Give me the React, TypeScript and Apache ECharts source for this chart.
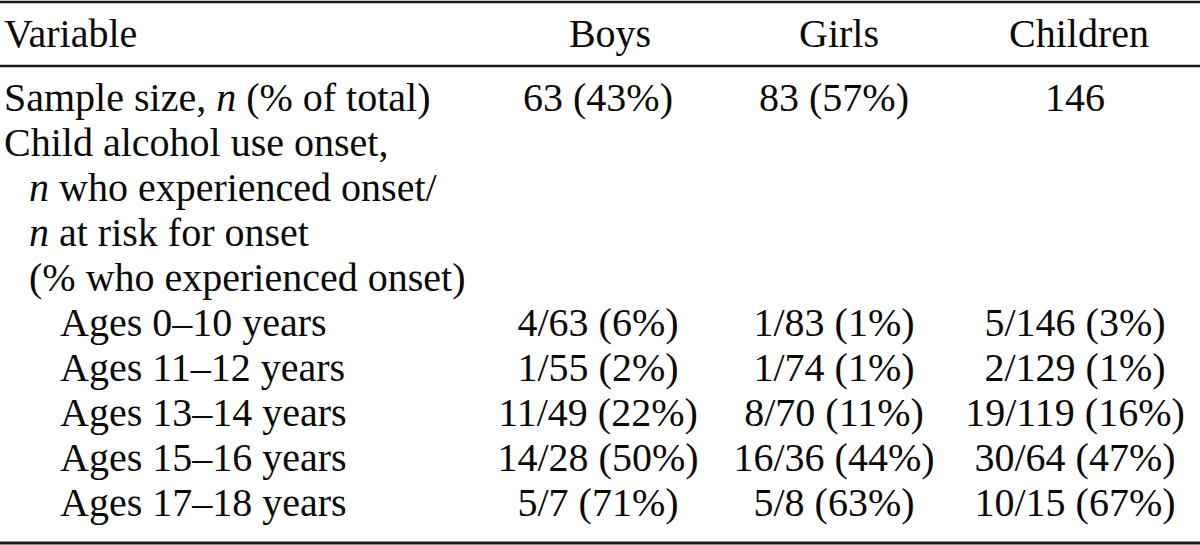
import React, { useEffect, useRef } from "react";
import * as echarts from "echarts";

const headerFirst = "Variable";
const columns = ["Boys", "Girls", "Children"];
const sampleN = [63, 83, 146];
const samplePct: (number | null)[] = [43, 57, null];
const ageGroups = [
  "Ages 0–10 years",
  "Ages 11–12 years",
  "Ages 13–14 years",
  "Ages 15–16 years",
  "Ages 17–18 years",
];
const boysOnset = [4, 1, 11, 14, 5];
const boysAtRisk = [63, 55, 49, 28, 7];
const boysPct = [6, 2, 22, 50, 71];
const girlsOnset = [1, 1, 8, 16, 5];
const girlsAtRisk = [83, 74, 70, 36, 8];
const girlsPct = [1, 1, 11, 44, 63];
const childOnset = [5, 2, 19, 30, 10];
const childAtRisk = [146, 129, 119, 64, 15];
const childPct = [3, 1, 16, 47, 67];

// Row label lines (rich-text markup: {i|...} is italic)
const labelLines = [
  { text: "Sample size, {i|n} (% of total)", indent: 0 },
  { text: "Child alcohol use onset,", indent: 0 },
  { text: "{i|n} who experienced onset/", indent: 1 },
  { text: "{i|n} at risk for onset", indent: 1 },
  { text: "(% who experienced onset)", indent: 1 },
];

const W = 1200;
const H = 545;
const FONT = '"Liberation Serif", "Times New Roman", serif';
const FS = 40;
const COLOR = "#0a0a0a";

export default function App() {
  const ref = useRef<HTMLDivElement>(null);

  useEffect(() => {
    if (!ref.current) return;
    const chart = echarts.init(ref.current, undefined, { renderer: "svg" });

    const headerCenters = [610, 839, 1079];
    const dataCenters = [598, 834, 1075];
    const headerY = 33;
    const rowY0 = 97;
    const pitch = 45.1;
    const indentX = [4, 29, 60];

    const els: any[] = [];
    const txt = (x: number, y: number, text: string, align: string) => ({
      type: "text",
      x,
      y,
      silent: true,
      style: {
        text,
        fill: COLOR,
        fontSize: FS,
        fontFamily: FONT,
        align,
        verticalAlign: "middle",
        rich: {
          i: { fontStyle: "italic", fontSize: FS, fontFamily: FONT, fill: COLOR },
        },
      },
    });
    const rule = (y: number, w: number) => ({
      type: "rect",
      silent: true,
      shape: { x: 0, y: y - w / 2, width: W, height: w },
      style: { fill: "#1a1a1a" },
    });

    // rules
    els.push(rule(2, 2.5));
    els.push(rule(66, 2.5));
    els.push(rule(543, 3));

    // header
    els.push(txt(indentX[0], headerY, headerFirst, "left"));
    columns.forEach((c, i) => els.push(txt(headerCenters[i], headerY, c, "center")));

    // label lines
    labelLines.forEach((l, r) => {
      els.push(txt(indentX[l.indent], rowY0 + r * pitch, l.text, "left"));
    });

    // sample size row
    sampleN.forEach((n, i) => {
      const p = samplePct[i];
      els.push(txt(dataCenters[i], rowY0, p == null ? `${n}` : `${n} (${p}%)`, "center"));
    });

    // age rows
    const onset = [boysOnset, girlsOnset, childOnset];
    const risk = [boysAtRisk, girlsAtRisk, childAtRisk];
    const pct = [boysPct, girlsPct, childPct];
    ageGroups.forEach((g, k) => {
      const y = rowY0 + (labelLines.length + k) * pitch;
      els.push(txt(indentX[2], y, g, "left"));
      for (let c = 0; c < 3; c++) {
        els.push(txt(dataCenters[c], y, `${onset[c][k]}/${risk[c][k]} (${pct[c][k]}%)`, "center"));
      }
    });

    chart.setOption({
      animation: false,
      backgroundColor: "#ffffff",
      graphic: { elements: els },
    });

    return () => chart.dispose();
  }, []);

  return (
    <div
      ref={ref}
      style={{ position: "fixed", left: 0, top: 0, width: W, height: H, background: "#fff" }}
    />
  );
}
